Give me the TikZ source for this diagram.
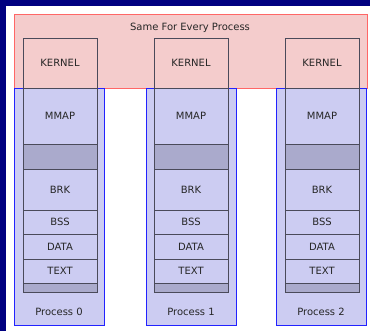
\documentclass[tikz,border=0pt]{standalone}
\usepackage{fontspec}
\setmainfont{DejaVu Sans}
\usetikzlibrary{positioning}

\definecolor{framenavy}{HTML}{000080}
\definecolor{sharedred}{HTML}{FF6666}
\definecolor{sharedfill}{HTML}{F4CCCC}
\definecolor{procblue}{HTML}{2222FF}
\definecolor{procfill}{HTML}{CCCCF2}
\definecolor{gapfill}{HTML}{AAAACC}
\definecolor{seggray}{HTML}{4A4A5A}
\definecolor{labeltext}{HTML}{262626}

\begin{document}
\begin{tikzpicture}[
  x=1pt, y=-1pt,
  shared/.style={draw=sharedred, fill=sharedfill, line width=0.8pt, inner sep=0pt, anchor=north west},
  procbox/.style={draw=procblue, fill=procfill, line width=0.8pt, inner sep=0pt, anchor=north west,
    minimum width=90pt, minimum height=237pt},
  segbox/.style={draw=seggray, line width=0.8pt, inner sep=0pt, minimum width=74pt},
  txt/.style={text=labeltext, font=\fontsize{10}{12}\selectfont}
]

% ===== Frame and page =====
\useasboundingbox (0,0) rectangle (370,331);
\fill[framenavy] (0,0) rectangle (370,331);
\fill[white] (6,6) rectangle (370,331);

% ===== Shared kernel area =====
\node[shared, minimum width=353pt, minimum height=74pt] (sharedarea) at (14,14) {};
\node[txt] (sharedlabel) at (190,27.5) {Same For Every Process};

% ===== One column per process =====
\foreach \i/\bx/\cx in {0/14/23, 1/146/154, 2/276/285} {
  % process box
  \node[procbox] (proc\i) at (\bx,88) {};
  % memory segments
  \foreach \nm/\lbl/\cy/\h/\fc in {kern/KERNEL/63/50/none, mmap/MMAP/116/56/none,
      gapa//156.5/25/gapfill, brk/BRK/189.5/41/none, bss/BSS/222/24/none,
      data/DATA/246.5/25/none, text/TEXT/271/24/none, gapb//287.5/9/gapfill} {
    \node[segbox, txt, fill=\fc, minimum height=\h pt, text depth=0pt, text height=7.3pt] (\nm\i) at (\cx+37,\cy) {\lbl};
  }
  % process name
  \node[txt] (plabel\i) at (\bx+45,312) {Process \i};
}

\end{tikzpicture}
\end{document}
